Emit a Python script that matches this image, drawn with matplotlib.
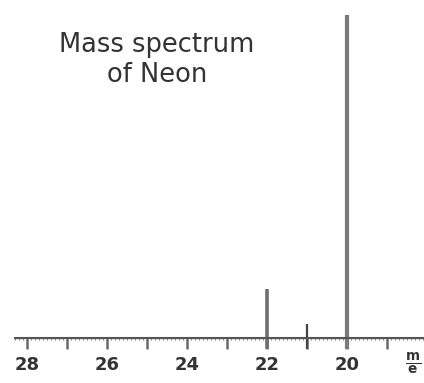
import matplotlib
matplotlib.use("Agg")
import matplotlib.pyplot as plt
from matplotlib.ticker import MultipleLocator

# Data
mass_to_charge = [20, 21, 22]
intensity = [100, 4.3, 15.2]
tick_labels = ["28", "26", "24", "22", "20"]
tick_values = [28, 26, 24, 22, 20]

W, H = 424, 383
dpi = 100
fig = plt.figure(figsize=(W / dpi, H / dpi), dpi=dpi)

left_px, right_px = 15, 424
base_px, top_px = 338, 15
ax = fig.add_axes([left_px / W, (H - base_px) / H, (right_px - left_px) / W, (base_px - top_px) / H])
ax.set_xlim(28.3, 18.075)
ax.set_ylim(0, 100)

for s in ["top", "right", "left"]:
    ax.spines[s].set_visible(False)
ax.spines["bottom"].set_color("#555555")
ax.spines["bottom"].set_linewidth(1.5)
ax.set_yticks([])

ax.xaxis.set_minor_locator(MultipleLocator(0.1))
major = list(range(19, 29))
ax.set_xticks(major)
ax.set_xticklabels([tick_labels[tick_values.index(v)] if v in tick_values else "" for v in major])
ax.tick_params(axis="x", which="major", direction="out", length=8, width=1.8,
               color="#6a6a6a", pad=5, labelsize=13, labelcolor="#333333")
ax.tick_params(axis="x", which="minor", direction="out", length=1.5, width=1,
               color="#888888")
for lbl in ax.get_xticklabels():
    lbl.set_fontweight("bold")

# Peaks (extend below the axis like ticks)
below = 11 / (base_px - top_px) * 100
colors = ["#7a7a7a", "#444444", "#6e6e6e"]
widths = [3, 1.6, 2.6]
for m, i, c, w in zip(mass_to_charge, intensity, colors, widths):
    ax.vlines(m, -below, i, colors=c, linewidth=w, clip_on=False)

fig.text(157 / W, 1 - 60 / H, "Mass spectrum\nof Neon", ha="center", va="center",
         fontsize=18.5, color="#333333", linespacing=1.15)
fig.text(413 / W, 1 - 364 / H, r"$\frac{\mathbf{m}}{\mathbf{e}}$", ha="center", va="center",
         fontsize=14, color="#333333")

fig.savefig("out.png", dpi=dpi)
